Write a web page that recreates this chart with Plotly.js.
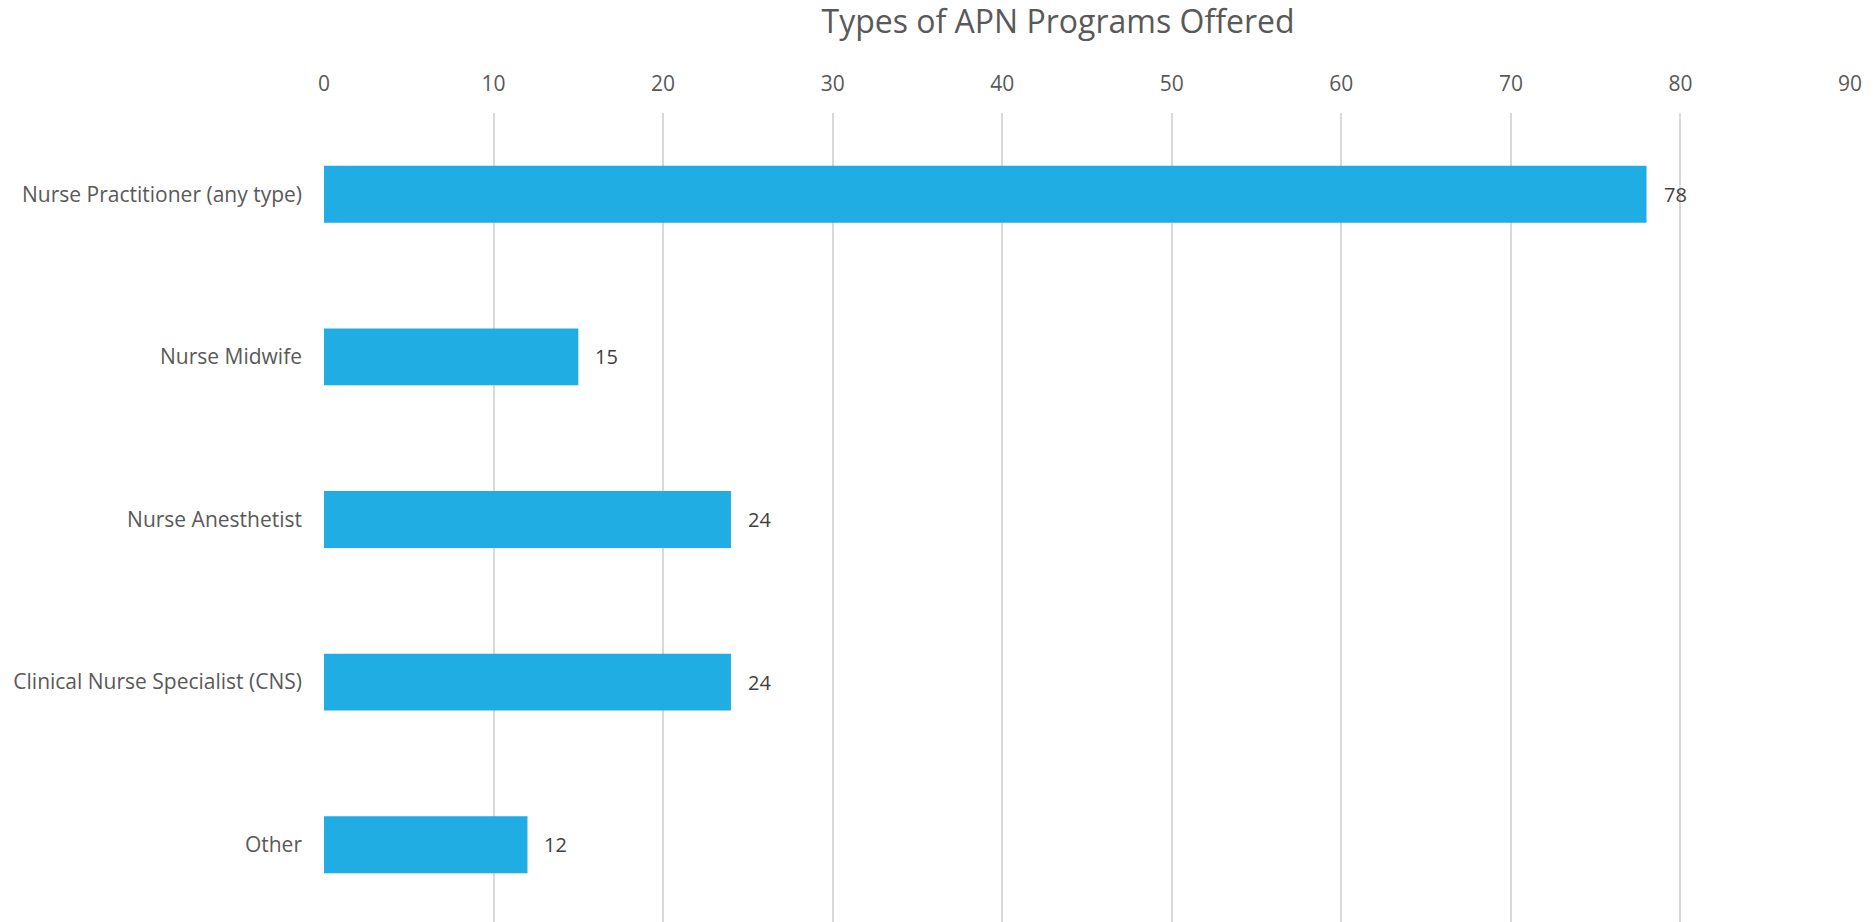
<!DOCTYPE html>
<html>
<head>
<meta charset="utf-8">
<script src="https://cdn.plot.ly/plotly-3.0.1.min.js"></script>
<style>html,body{margin:0;padding:0;overflow:hidden;background:#fff;}</style>
</head>
<body>
<div id="chart" style="width:1875px;height:926px;"></div>
<script>
const categories = ["Nurse Practitioner (any type)", "Nurse Midwife", "Nurse Anesthetist", "Clinical Nurse Specialist (CNS)", "Other"];
const values = [78, 15, 24, 24, 12];
const tickValues = [0, 10, 20, 30, 40, 50, 60, 70, 80, 90];
const chartTitle = "Types of APN Programs Offered";

const font = "'Open Sans', 'Segoe UI', sans-serif";

const trace = {
  type: 'bar',
  orientation: 'h',
  x: values,
  y: categories,
  width: 0.35,
  marker: {color: '#1FADE4'},
  hoverinfo: 'x+y'
};

const annotations = values.map((v, i) => ({
  x: v, y: categories[i], xref: 'x', yref: 'y',
  text: String(v), showarrow: false, xanchor: 'left', xshift: 15,
  font: {family: font, size: 20, color: '#404040'}
}));

const layout = {
  width: 1875, height: 926,
  margin: {l: 323.5, r: 25, t: 113, b: 0},
  paper_bgcolor: '#fff', plot_bgcolor: '#fff',
  title: {text: chartTitle, x: 1058/1875, xanchor: 'center', y: 1 - 22/926, yanchor: 'middle',
          font: {family: font, size: 32, color: '#595959'}},
  xaxis: {range: [0, 90], side: 'top', tickvals: tickValues, showgrid: true, gridcolor: '#D9D9D9', gridwidth: 2,
          zeroline: false, showline: false, ticks: '', ticklabelstandoff: 17,
          tickfont: {family: font, size: 21, color: '#595959'}, fixedrange: true},
  yaxis: {autorange: 'reversed', showgrid: false, zeroline: false, showline: false, ticks: '', ticklabelstandoff: 21,
          tickfont: {family: font, size: 21, color: '#595959'}, fixedrange: true},
  annotations: annotations,
  showlegend: false
};

Plotly.newPlot('chart', [trace], layout, {displayModeBar: false, staticPlot: true});
</script>
</body>
</html>
